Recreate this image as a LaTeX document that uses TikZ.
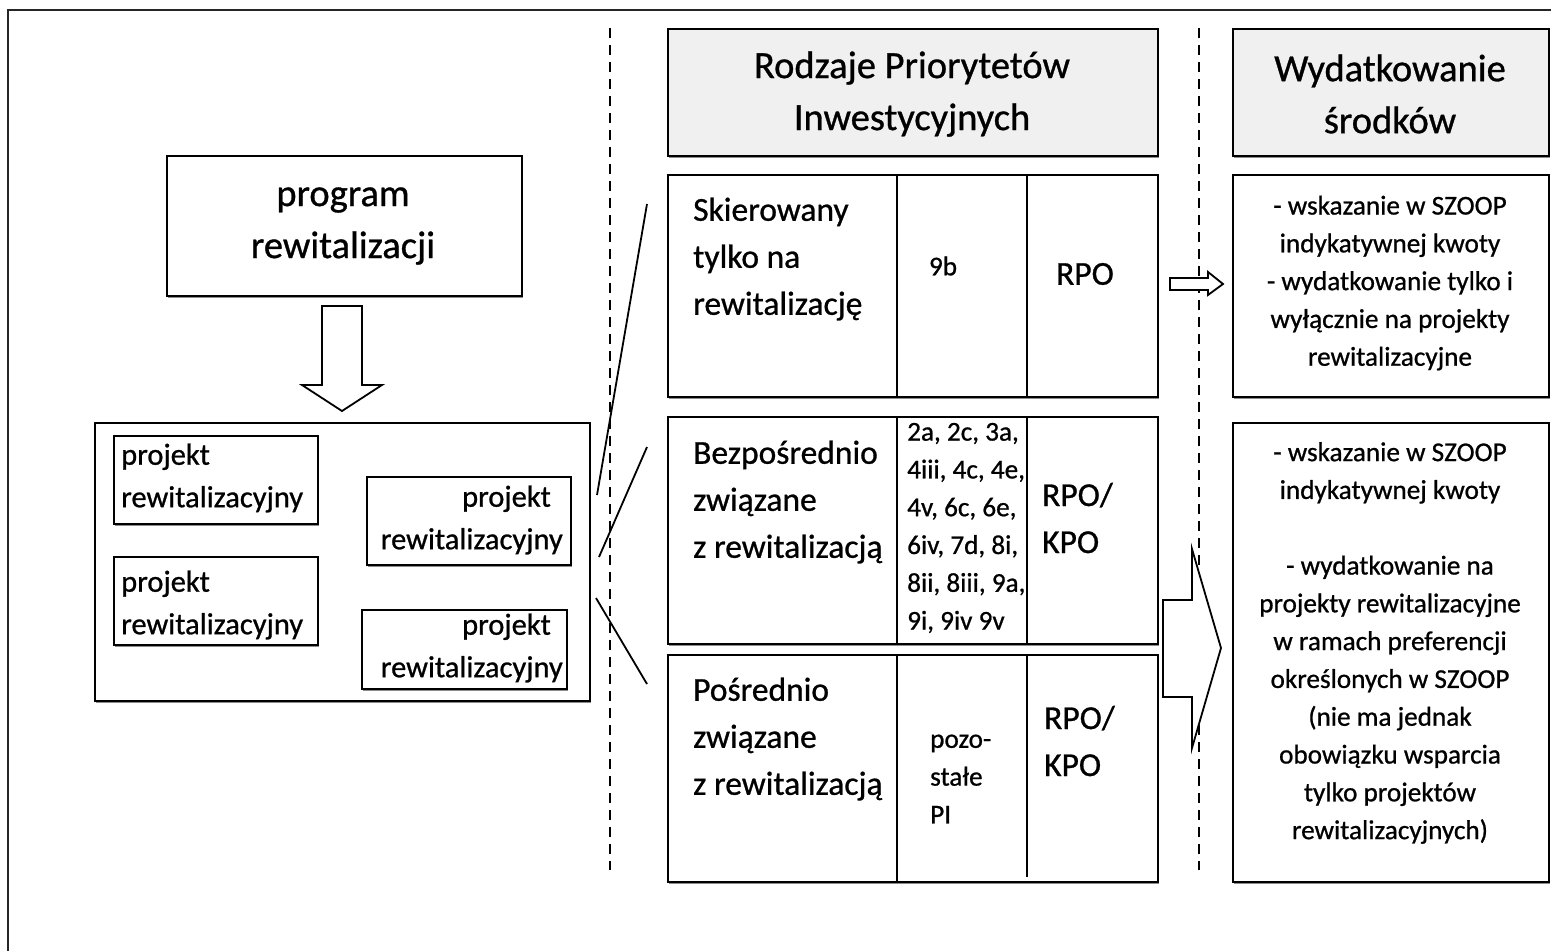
\documentclass[tikz,border=0pt]{standalone}
\usepackage{fontspec}
\setmainfont{Carlito}[FakeBold=0.8]
\usetikzlibrary{shadows}
\begin{document}
\begin{tikzpicture}[x=1pt,y=-1pt,
  box/.style={draw=black, line width=1.8pt, fill=white, anchor=north west, inner sep=0pt,
    drop shadow={shadow xshift=1.5pt, shadow yshift=-2pt, fill=black!45, opacity=1}},
  hdbox/.style={box, fill=black!6},
  txt/.style={inner sep=0pt, text=black},
  bigf/.style={txt, font=\fontsize{38.5}{52}\selectfont},
  midf/.style={txt, font=\fontsize{33.5}{47}\selectfont},
  prjf/.style={txt, font=\fontsize{30.5}{42.5}\selectfont},
  smf/.style={txt, font=\fontsize{27.2}{37.8}\selectfont},
  conn/.style={line width=1.8pt},
  sep/.style={line width=2.4pt, dash pattern=on 10pt off 7pt},
  blockarrow/.style={draw, line width=1.8pt, fill=white, line join=miter}
]
\useasboundingbox (0,0) rectangle (1551,951);
% outer frame
\draw[line width=1.6pt, black!85] (8,951) -- (8,10) -- (1551,10);

% separators
\coordinate (d1t) at (610,28); \coordinate (d1b) at (610,870);
\coordinate (d2t) at (1199,28); \coordinate (d2b) at (1199,870);
\draw[sep] (d1t) -- (d1b);
\draw[sep] (d2t) -- (d2b);

% headers
\node[hdbox, minimum width=490, minimum height=127] (h1) at (667,28) {};
\node[hdbox, minimum width=316, minimum height=127] (h2) at (1232,28) {};
\node[bigf, align=center] (h1t) at (912,94) {Rodzaje Priorytetów\\Inwestycyjnych};
\node[bigf, align=center] (h2t) at (1390,94) {Wydatkowanie\\środków};

% program
\node[box, minimum width=355, minimum height=140] (prog) at (166,155) {};
\node[bigf, align=center] (progt) at (343,226) {program\\rewitalizacji};

% down arrow
\draw[blockarrow] (322,306) -- (362,306) -- (362,385) -- (382,385) -- (342,411) -- (302,385) -- (322,385) -- cycle;

% projects container
\node[box, minimum width=495, minimum height=278] (cont) at (94,422) {};
\node[box, minimum width=204, minimum height=88] (pa) at (113,435) {};
\node[box, minimum width=204, minimum height=88] (pb) at (366,476) {};
\node[box, minimum width=204, minimum height=88] (pc) at (113,556) {};
\node[box, minimum width=205, minimum height=79] (pd) at (361,609) {};
\node[prjf, align=left, anchor=west] (pat) at (121,478) {projekt\\rewitalizacyjny};
\node[prjf, align=right, anchor=east] (pbt) at (563,520) {projekt\kern12pt\\rewitalizacyjny};
\node[prjf, align=left, anchor=west] (pct) at (121,605) {projekt\\rewitalizacyjny};
\node[prjf, align=right, anchor=east] (pdt) at (563,648) {projekt\kern12pt\\rewitalizacyjny};

% connectors
\coordinate (c1a) at (597,495); \coordinate (c1b) at (647,204);
\coordinate (c2a) at (599,557); \coordinate (c2b) at (647,447);
\coordinate (c3a) at (596,598); \coordinate (c3b) at (647,684);
\draw[conn] (c1a) -- (c1b);
\draw[conn] (c2a) -- (c2b);
\draw[conn] (c3a) -- (c3b);

% rows
\node[box, minimum width=490, minimum height=222] (r1) at (667,174) {};
\node[box, minimum width=490, minimum height=227] (r2) at (667,416) {};
\node[box, minimum width=490, minimum height=227] (r3) at (667,654) {};
\draw[conn] (897,174) -- (897,396);
\draw[conn] (1027,174) -- (1027,396);
\draw[conn] (897,416) -- (897,643);
\draw[conn] (1027,416) -- (1027,643);
\draw[conn] (897,654) -- (897,881);
\draw[conn] (1027,654) -- (1027,877);

\node[midf, align=left, anchor=west] (r1a) at (693,259) {Skierowany\\tylko na\\rewitalizację};
\node[smf] (r1b) at (943,266) {9b};
\node[midf] (r1c) at (1085,274) {RPO};

\node[midf, align=left, anchor=west] (r2a) at (693,502) {Bezpośrednio\\związane\\z rewitalizacją};
\node[smf, align=left, anchor=west] (r2b) at (907,528) {2a, 2c, 3a,\\4iii, 4c, 4e,\\4v, 6c, 6e,\\6iv, 7d, 8i,\\8ii, 8iii, 9a,\\9i, 9iv 9v};
\node[midf, align=left, anchor=west] (r2c) at (1042,518) {RPO/\\KPO};

\node[midf, align=left, anchor=west] (r3a) at (693,739) {Pośrednio\\związane\\z rewitalizacją};
\node[smf, align=left, anchor=west] (r3b) at (930,779) {pozo-\\stałe\\PI};
\node[midf, align=left, anchor=west] (r3c) at (1044,741) {RPO/\\KPO};

% right column
\node[box, minimum width=316, minimum height=222] (e1) at (1232,174) {};
\node[box, minimum width=316, minimum height=459] (e2) at (1232,422) {};
\node[smf, align=center] (e1t) at (1390,283) {- wskazanie w SZOOP\\indykatywnej kwoty\\- wydatkowanie tylko i\\wyłącznie na projekty\\rewitalizacyjne};
\node[smf, align=center] (e2t) at (1390,643) {- wskazanie w SZOOP\\indykatywnej kwoty\\[37.8pt]- wydatkowanie na\\projekty rewitalizacyjne\\w ramach preferencji\\określonych w SZOOP\\(nie ma jednak\\obowiązku wsparcia\\tylko projektów\\rewitalizacyjnych)};

% arrows to right column
\draw[blockarrow] (1170,278) -- (1208,278) -- (1208,272) -- (1223,284) -- (1208,295) -- (1208,290) -- (1170,290) -- cycle;
\draw[blockarrow] (1163,600) -- (1192,600) -- (1192,549) -- (1221,648) -- (1192,748) -- (1192,697) -- (1163,697) -- cycle;
\end{tikzpicture}
\end{document}
